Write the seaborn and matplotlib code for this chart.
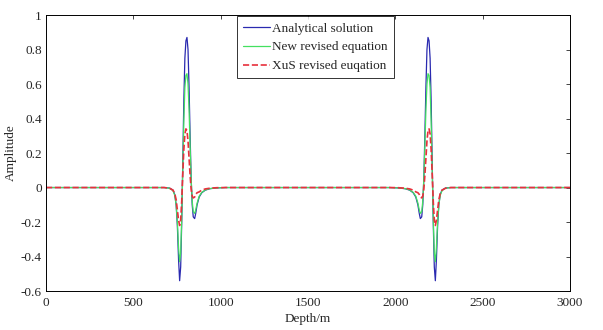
import numpy as np
import pandas as pd
import seaborn as sns
from matplotlib import pyplot as plt

# depth samples (m)
depth = [0, 300, 600,
         677, 707, 727, 737, 745, 752, 759, 765, 771, 777, 783, 789, 795, 801,
         807, 813, 819, 825, 831, 837, 843, 851, 857, 865, 877, 892, 912, 937,
         977, 1027,
         1500,
         1967, 2017, 2057, 2082, 2102, 2117, 2129, 2137, 2143, 2151, 2157, 2163,
         2169, 2175, 2181, 2187, 2193, 2199, 2205, 2211, 2217, 2223, 2229, 2235,
         2242, 2249, 2257, 2267, 2287, 2317,
         2700, 3000]

analytical = [0, 0, 0,
              0, -0.003, -0.015, -0.04, -0.10, -0.22, -0.42, -0.54, -0.46, -0.20,
              0.15, 0.50, 0.75, 0.85, 0.87, 0.80, 0.58, 0.30, 0.05, -0.10, -0.17,
              -0.18, -0.15, -0.10, -0.055, -0.03, -0.015, -0.007, -0.002, 0,
              0,
              0, -0.002, -0.007, -0.015, -0.03, -0.055, -0.10, -0.15, -0.18, -0.17,
              -0.10, 0.05, 0.30, 0.58, 0.80, 0.87, 0.85, 0.75, 0.50, 0.15, -0.20,
              -0.46, -0.54, -0.42, -0.22, -0.10, -0.04, -0.015, -0.003, 0,
              0, 0]

new_revised = [0, 0, 0,
               0, -0.004, -0.018, -0.045, -0.10, -0.20, -0.35, -0.43, -0.38, -0.18,
               0.10, 0.38, 0.58, 0.65, 0.66, 0.60, 0.45, 0.24, 0.05, -0.08, -0.14,
               -0.15, -0.13, -0.09, -0.05, -0.028, -0.014, -0.006, -0.002, 0,
               0,
               0, -0.002, -0.006, -0.014, -0.028, -0.05, -0.09, -0.13, -0.15, -0.14,
               -0.08, 0.05, 0.24, 0.45, 0.60, 0.66, 0.65, 0.58, 0.38, 0.10, -0.18,
               -0.38, -0.43, -0.35, -0.20, -0.10, -0.045, -0.018, -0.004, 0,
               0, 0]

xus_revised = [0, 0, 0,
               0, -0.004, -0.015, -0.035, -0.07, -0.13, -0.19, -0.22, -0.19, -0.08,
               0.08, 0.22, 0.31, 0.34, 0.33, 0.27, 0.17, 0.07, -0.01, -0.05, -0.06,
               -0.055, -0.04, -0.03, -0.025, -0.015, -0.008, -0.004, -0.001, 0,
               0,
               0, -0.001, -0.004, -0.008, -0.015, -0.025, -0.03, -0.04, -0.055, -0.06,
               -0.05, -0.01, 0.07, 0.17, 0.27, 0.33, 0.34, 0.31, 0.22, 0.08, -0.08,
               -0.19, -0.22, -0.19, -0.13, -0.07, -0.035, -0.015, -0.004, 0,
               0, 0]

labels = ["Analytical solution", "New revised equation", "XuS revised euqation"]
colors = ["#2a2ab0", "#44e060", "#e8303c"]
styles = ["-", "-", "--"]

df = pd.DataFrame({
    "Depth/m": depth * 3,
    "Amplitude": analytical + new_revised + xus_revised,
    "Series": [labels[0]] * len(depth) + [labels[1]] * len(depth) + [labels[2]] * len(depth),
})

sns.set_style("white")
FONT = "Liberation Serif"
FS = 9.5
plt.rcParams["font.family"] = "serif"
plt.rcParams["font.serif"] = [FONT, "DejaVu Serif"]
plt.rcParams["font.size"] = FS

fig = plt.figure(figsize=(6.03, 3.30), dpi=100)
ax = fig.add_axes([0.0763, 0.118, 0.869, 0.8365])

for lab, col, ls in zip(labels, colors, styles):
    sns.lineplot(
        data=df[df["Series"] == lab],
        x="Depth/m",
        y="Amplitude",
        ax=ax,
        color=col,
        linestyle=ls,
        linewidth=0.9 if ls == "-" else 1.2,
        label=lab,
        estimator=None,
        sort=False,
    )

ax.set_xlim(0, 3000)
ax.set_ylim(-0.6, 1)
ax.set_xticks(np.arange(0, 3001, 500))
ax.set_yticks(np.arange(-0.6, 1.01, 0.2))
ax.set_yticklabels(["-0.6", "-0.4", "-0.2", "0", "0.2", "0.4", "0.6", "0.8", "1"])
ax.tick_params(direction="in", length=3, width=0.6, top=True, right=True,
               labelsize=FS)
ax.tick_params(axis="x", pad=4)
ax.tick_params(axis="y", pad=3)
for t in ax.get_xticklabels() + ax.get_yticklabels():
    t.set_family(FONT)
for sp in ax.spines.values():
    sp.set_linewidth(0.7)
    sp.set_color("black")
ax.set_xlabel("Depth/m", fontsize=FS, family=FONT, labelpad=3)
ax.set_ylabel("Amplitude", fontsize=FS, family=FONT, labelpad=3)

leg = ax.legend(loc="upper left", bbox_to_anchor=(0.364, 0.995), frameon=True,
                fancybox=False, edgecolor="black",
                prop={"family": FONT, "size": FS},
                handlelength=2.1, handletextpad=0.15, borderpad=0.45,
                labelspacing=0.5, borderaxespad=0)
leg.get_frame().set_linewidth(0.7)

fig.savefig("out.png", dpi=100)
